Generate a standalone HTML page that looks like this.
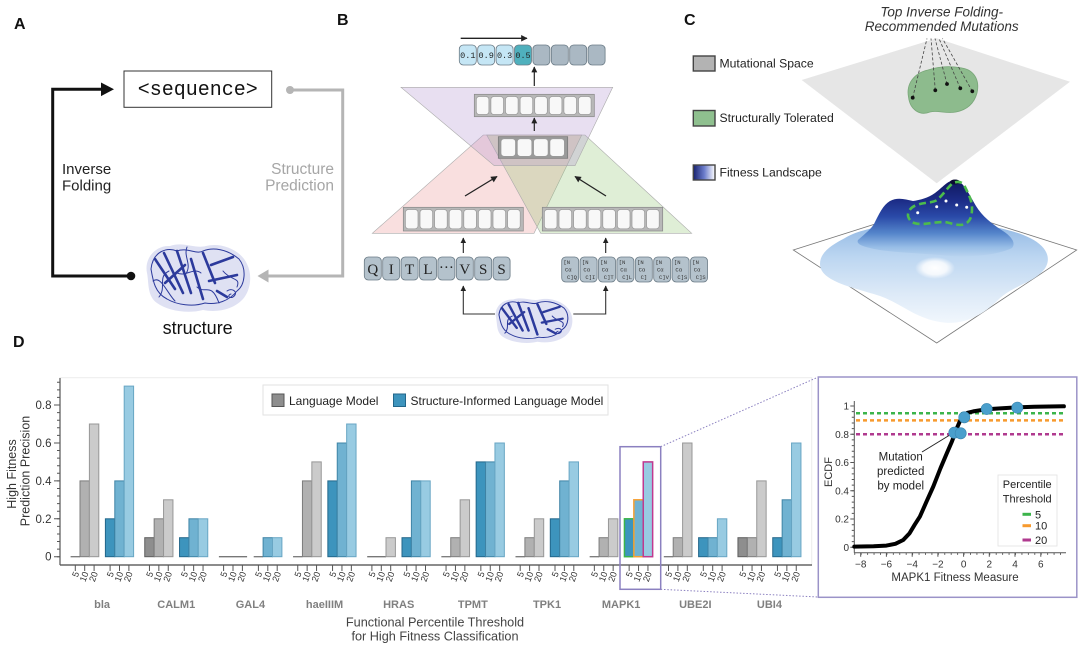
<!DOCTYPE html>
<html><head><meta charset="utf-8">
<style>
html,body{margin:0;padding:0;background:#fff;}
svg{display:block;font-family:"Liberation Sans",Arial,sans-serif;}
.l10{fill:#b1b1b1;stroke:#7d7d7d;stroke-width:1}
.l5{fill:#8e8e8e;stroke:#5e5e5e;stroke-width:1}
.l20{fill:#cbcbcb;stroke:#979797;stroke-width:1}
.s5{fill:#3d94bd;stroke:#22668a;stroke-width:1}
.s10{fill:#70b2d1;stroke:#3f84a6;stroke-width:1}
.s20{fill:#98cbe2;stroke:#68a6c4;stroke-width:1}
.z{stroke:#777;stroke-width:1.3}
.tk{stroke:#555;stroke-width:1;fill:none}
.tl{font-size:9px;fill:#333;text-anchor:end}
.pn{font-size:11px;font-weight:bold;fill:#808080;text-anchor:middle}
.cell{fill:#f8f8f8;stroke:#999;stroke-width:0.7}
.tok{fill:#b4c2cc;stroke:#6b7b86;stroke-width:0.8}
.mono{font-family:"Liberation Mono",monospace}
</style></head>
<body>
<svg width="1080" height="648" viewBox="0 0 1080 648" xmlns="http://www.w3.org/2000/svg">
<defs>
<marker id="ah" viewBox="0 0 10 10" refX="9" refY="5" markerWidth="5" markerHeight="5" orient="auto-start-reverse"><path d="M0,0L10,5L0,10Z" fill="#222"/></marker>
<linearGradient id="mt" x1="0" y1="0" x2="0" y2="1">
<stop offset="0" stop-color="#10185e"/>
<stop offset="0.25" stop-color="#1b2a84"/>
<stop offset="0.48" stop-color="#2a4aa8"/>
<stop offset="0.7" stop-color="#5586cb"/>
<stop offset="0.88" stop-color="#97bde6"/>
<stop offset="1" stop-color="#b8d3ef"/>
</linearGradient>
<linearGradient id="fp" x1="0" y1="0" x2="0" y2="1">
<stop offset="0" stop-color="#8fb6e3"/>
<stop offset="0.35" stop-color="#bcd6f1"/>
<stop offset="0.7" stop-color="#dce9f7"/>
<stop offset="1" stop-color="#f1f7fd"/>
</linearGradient>
<radialGradient id="wh" cx="0.5" cy="0.5" r="0.5">
<stop offset="0" stop-color="#fff" stop-opacity="1"/>
<stop offset="0.6" stop-color="#fff" stop-opacity="0.8"/>
<stop offset="1" stop-color="#fff" stop-opacity="0"/>
</radialGradient>
<linearGradient id="lg" x1="0" y1="0" x2="1" y2="0">
<stop offset="0" stop-color="#18226e"/>
<stop offset="0.5" stop-color="#6a7bcb"/>
<stop offset="1" stop-color="#ffffff"/>
</linearGradient>
</defs>

<!-- Panel labels -->
<g font-weight="bold" font-size="16" fill="#111">
<text x="14" y="29">A</text>
<text x="337" y="25">B</text>
<text x="684" y="25">C</text>
<text x="13" y="347">D</text>
</g>

<!-- ================= PANEL A ================= -->
<rect x="124" y="71" width="147.7" height="36.3" fill="#fff" stroke="#333" stroke-width="1"/>
<text x="197.8" y="95" class="mono" font-size="20" text-anchor="middle" fill="#111">&lt;sequence&gt;</text>
<path d="M131,276 H52.7 V89.3 H103" fill="none" stroke="#111" stroke-width="3"/>
<polygon points="101,82.5 114,89.3 101,96.1" fill="#111"/>
<circle cx="131" cy="276" r="4.3" fill="#111"/>
<text x="62" y="174" font-size="15" fill="#222">Inverse</text>
<text x="62" y="190.5" font-size="15" fill="#222">Folding</text>
<path d="M290,90 H342.7 V276 H267" fill="none" stroke="#b5b5b5" stroke-width="3"/>
<polygon points="268.5,269.5 257.5,276 268.5,282.5" fill="#b5b5b5"/>
<circle cx="290" cy="90" r="4" fill="#b5b5b5"/>
<text x="334" y="174" font-size="15.5" fill="#a6a6a6" text-anchor="end">Structure</text>
<text x="334" y="190.5" font-size="15.5" fill="#a6a6a6" text-anchor="end">Prediction</text>
<text x="197.7" y="334" font-size="18" text-anchor="middle" fill="#111">structure</text>

<!-- protein A -->
<g transform="translate(197,277)">
<path d="M-50,-4 C-53,-18 -42,-32 -27,-31 C-14,-36 -2,-28 9,-31 C24,-35 44,-27 50,-13 C56,-1 53,14 46,22 C37,32 21,36 6,33 C-9,37 -29,34 -40,26 C-50,19 -48,6 -50,-4Z" fill="#dfe1f3"/>
<g fill="none" stroke="#2c3a9c" stroke-linecap="round">
<path stroke-width="2.6" d="M-42,-18 L-22,12 M-33,-24 L-14,16 M-20,-26 L-6,16 M-6,-18 L6,22 M6,-24 L18,6 M14,-12 L36,-20 M12,4 L40,-2 M-32,6 L-12,-12 M20,14 L30,20"/>
<path stroke-width="1" d="M-46,-8 C-44,-26 -30,-30 -20,-26 C-10,-30 0,-22 6,-26 C16,-30 30,-28 42,-18 C50,-8 48,8 40,14 C32,24 20,28 8,26 C-4,30 -20,28 -30,22 C-42,16 -44,4 -46,-8 M-38,20 C-30,10 -40,0 -28,-6 M26,-6 C34,4 44,0 40,10 M30,14 C36,10 42,16 36,20 C32,22 30,18 34,17 M-20,-4 C-10,0 -4,-10 4,-4 M-44,4 C-36,-2 -30,16 -22,24 M0,10 C8,18 14,4 22,26 M-10,-30 C-14,-20 -4,-12 -12,-2"/>
</g></g>

<!-- ================= PANEL B ================= -->
<line x1="460.7" y1="38.3" x2="527" y2="38.3" stroke="#222" stroke-width="1.3" marker-end="url(#ah)"/>
<g>
<rect class="tok" x="459.3" y="45" width="17" height="20" rx="4" style="fill:#c5e6f5"/>
<rect class="tok" x="477.7" y="45" width="17" height="20" rx="4" style="fill:#c5e6f5"/>
<rect class="tok" x="496.1" y="45" width="17" height="20" rx="4" style="fill:#c5e6f5"/>
<rect class="tok" x="514.5" y="45" width="17" height="20" rx="4" style="fill:#4fb0bd"/>
<rect class="tok" x="532.9" y="45" width="17" height="20" rx="4" style="fill:#aab8c3"/>
<rect class="tok" x="551.3" y="45" width="17" height="20" rx="4" style="fill:#aab8c3"/>
<rect class="tok" x="569.7" y="45" width="17" height="20" rx="4" style="fill:#aab8c3"/>
<rect class="tok" x="588.1" y="45" width="17" height="20" rx="4" style="fill:#aab8c3"/>
<g class="mono" font-size="8.5" text-anchor="middle" fill="#222">
<text x="467.8" y="58">0.1</text><text x="486.2" y="58">0.9</text><text x="504.6" y="58">0.3</text><text x="523" y="58">0.5</text>
</g></g>
<line x1="534.3" y1="86" x2="534.3" y2="67" stroke="#222" stroke-width="1.2" marker-end="url(#ah)"/>

<polygon points="483.3,135 581.7,135 534,233.3 372.3,233.3" fill="rgb(235,150,150)" fill-opacity="0.3" stroke="#aaa" stroke-width="0.6"/>
<polygon points="486.7,135 585,135 691.7,233.3 540.7,233.3" fill="rgb(150,200,120)" fill-opacity="0.3" stroke="#aaa" stroke-width="0.6"/>
<polygon points="401,87.3 612.7,87.3 575,165.7 494.3,165.7" fill="rgb(180,150,210)" fill-opacity="0.3" stroke="#aaa" stroke-width="0.6"/>

<rect x="474.3" y="94.3" width="120" height="22.4" fill="#b8b8b8" stroke="#888" stroke-width="0.7"/>
<g>
<rect class="cell" x="476.3" y="96.5" width="12.6" height="18" rx="3"/>
<rect class="cell" x="490.9" y="96.5" width="12.6" height="18" rx="3"/>
<rect class="cell" x="505.5" y="96.5" width="12.6" height="18" rx="3"/>
<rect class="cell" x="520.1" y="96.5" width="12.6" height="18" rx="3"/>
<rect class="cell" x="534.7" y="96.5" width="12.6" height="18" rx="3"/>
<rect class="cell" x="549.3" y="96.5" width="12.6" height="18" rx="3"/>
<rect class="cell" x="563.9" y="96.5" width="12.6" height="18" rx="3"/>
<rect class="cell" x="578.5" y="96.5" width="12.6" height="18" rx="3"/>
</g>
<line x1="534.3" y1="131" x2="534.3" y2="118" stroke="#222" stroke-width="1.2" marker-end="url(#ah)"/>
<rect x="498.3" y="136.7" width="69.4" height="21.6" fill="#9a9a9a" stroke="#777" stroke-width="0.7"/>
<rect class="cell" x="501" y="138.8" width="14.5" height="17.5" rx="3"/>
<rect class="cell" x="517.3" y="138.8" width="14.5" height="17.5" rx="3"/>
<rect class="cell" x="533.6" y="138.8" width="14.5" height="17.5" rx="3"/>
<rect class="cell" x="549.9" y="138.8" width="14.5" height="17.5" rx="3"/>

<rect x="403.3" y="207.3" width="120" height="23.7" fill="#b8b8b8" stroke="#888" stroke-width="0.7"/>
<g>
<rect class="cell" x="405.4" y="209.5" width="12.6" height="19.3" rx="3"/>
<rect class="cell" x="420" y="209.5" width="12.6" height="19.3" rx="3"/>
<rect class="cell" x="434.6" y="209.5" width="12.6" height="19.3" rx="3"/>
<rect class="cell" x="449.2" y="209.5" width="12.6" height="19.3" rx="3"/>
<rect class="cell" x="463.8" y="209.5" width="12.6" height="19.3" rx="3"/>
<rect class="cell" x="478.4" y="209.5" width="12.6" height="19.3" rx="3"/>
<rect class="cell" x="493" y="209.5" width="12.6" height="19.3" rx="3"/>
<rect class="cell" x="507.6" y="209.5" width="12.6" height="19.3" rx="3"/>
</g>
<rect x="542.3" y="207.3" width="120.4" height="23.7" fill="#b8b8b8" stroke="#888" stroke-width="0.7"/>
<g>
<rect class="cell" x="544.4" y="209.5" width="12.6" height="19.3" rx="3"/>
<rect class="cell" x="559" y="209.5" width="12.6" height="19.3" rx="3"/>
<rect class="cell" x="573.6" y="209.5" width="12.6" height="19.3" rx="3"/>
<rect class="cell" x="588.2" y="209.5" width="12.6" height="19.3" rx="3"/>
<rect class="cell" x="602.8" y="209.5" width="12.6" height="19.3" rx="3"/>
<rect class="cell" x="617.4" y="209.5" width="12.6" height="19.3" rx="3"/>
<rect class="cell" x="632" y="209.5" width="12.6" height="19.3" rx="3"/>
<rect class="cell" x="646.6" y="209.5" width="12.6" height="19.3" rx="3"/>
</g>
<line x1="465" y1="196" x2="497" y2="176.5" stroke="#222" stroke-width="1.3" marker-end="url(#ah)"/>
<line x1="606" y1="196" x2="575" y2="176.5" stroke="#222" stroke-width="1.3" marker-end="url(#ah)"/>
<line x1="463.3" y1="253" x2="463.3" y2="238" stroke="#222" stroke-width="1.1" marker-end="url(#ah)"/>
<line x1="605.7" y1="253" x2="605.7" y2="238" stroke="#222" stroke-width="1.1" marker-end="url(#ah)"/>

<!-- sequence tokens -->
<g>
<rect class="tok" x="364.3" y="257" width="17" height="23" rx="4"/>
<rect class="tok" x="382.7" y="257" width="17" height="23" rx="4"/>
<rect class="tok" x="401.1" y="257" width="17" height="23" rx="4"/>
<rect class="tok" x="419.5" y="257" width="17" height="23" rx="4"/>
<rect class="tok" x="437.9" y="257" width="17" height="23" rx="4"/>
<rect class="tok" x="456.3" y="257" width="17" height="23" rx="4"/>
<rect class="tok" x="474.7" y="257" width="17" height="23" rx="4"/>
<rect class="tok" x="493.1" y="257" width="17" height="23" rx="4"/>
<g font-family="Liberation Serif,serif" font-size="15" text-anchor="middle" fill="#222">
<text x="372.8" y="274">Q</text><text x="391.2" y="274">I</text><text x="409.6" y="274">T</text><text x="428" y="274">L</text><text x="446.4" y="272">···</text><text x="464.8" y="274">V</text><text x="483.2" y="274">S</text><text x="501.6" y="274">S</text>
</g></g>
<g>
<rect class="tok" x="561.7" y="257" width="17" height="25" rx="4"/>
<rect class="tok" x="580.1" y="257" width="17" height="25" rx="4"/>
<rect class="tok" x="598.5" y="257" width="17" height="25" rx="4"/>
<rect class="tok" x="616.9" y="257" width="17" height="25" rx="4"/>
<rect class="tok" x="635.3" y="257" width="17" height="25" rx="4"/>
<rect class="tok" x="653.7" y="257" width="17" height="25" rx="4"/>
<rect class="tok" x="672.1" y="257" width="17" height="25" rx="4"/>
<rect class="tok" x="690.5" y="257" width="17" height="25" rx="4"/>
<g class="mono" font-size="5.5" fill="#333">
<text x="563.5" y="264">[N</text><text x="565" y="271.5">Cα</text><text x="567" y="279">C]Q</text>
<text x="581.9" y="264">[N</text><text x="583.4" y="271.5">Cα</text><text x="585.4" y="279">C]I</text>
<text x="600.3" y="264">[N</text><text x="601.8" y="271.5">Cα</text><text x="603.8" y="279">C]T</text>
<text x="618.7" y="264">[N</text><text x="620.2" y="271.5">Cα</text><text x="622.2" y="279">C]L</text>
<text x="637.1" y="264">[N</text><text x="638.6" y="271.5">Cα</text><text x="640.6" y="279">C]</text>
<text x="655.5" y="264">[N</text><text x="657" y="271.5">Cα</text><text x="659" y="279">C]V</text>
<text x="673.9" y="264">[N</text><text x="675.4" y="271.5">Cα</text><text x="677.4" y="279">C]S</text>
<text x="692.3" y="264">[N</text><text x="693.8" y="271.5">Cα</text><text x="695.8" y="279">C]S</text>
</g></g>
<path d="M495,314 H463.3 V286" fill="none" stroke="#333" stroke-width="1.1" marker-end="url(#ah)"/>
<path d="M573.3,314 H605.7 V286" fill="none" stroke="#333" stroke-width="1.1" marker-end="url(#ah)"/>

<!-- protein B -->
<g transform="translate(533,320) scale(0.74,0.66)">
<path d="M-50,-4 C-53,-18 -42,-32 -27,-31 C-14,-36 -2,-28 9,-31 C24,-35 44,-27 50,-13 C56,-1 53,14 46,22 C37,32 21,36 6,33 C-9,37 -29,34 -40,26 C-50,19 -48,6 -50,-4Z" fill="#dfe1f3"/>
<g fill="none" stroke="#2c3a9c" stroke-linecap="round">
<path stroke-width="3.4" d="M-42,-18 L-22,12 M-33,-24 L-14,16 M-20,-26 L-6,16 M-6,-18 L6,22 M6,-24 L18,6 M14,-12 L36,-20 M12,4 L40,-2 M-32,6 L-12,-12 M20,14 L30,20"/>
<path stroke-width="1.4" d="M-46,-8 C-44,-26 -30,-30 -20,-26 C-10,-30 0,-22 6,-26 C16,-30 30,-28 42,-18 C50,-8 48,8 40,14 C32,24 20,28 8,26 C-4,30 -20,28 -30,22 C-42,16 -44,4 -46,-8 M-38,20 C-30,10 -40,0 -28,-6 M26,-6 C34,4 44,0 40,10 M30,14 C36,10 42,16 36,20 C32,22 30,18 34,17"/>
</g></g>

<!-- ================= PANEL C ================= -->
<g font-size="13.5" font-style="italic" fill="#333" text-anchor="middle">
<text x="941.7" y="16.5">Top Inverse Folding-</text>
<text x="941.7" y="31">Recommended Mutations</text>
</g>
<rect x="693.3" y="56" width="21.7" height="15" fill="#b3b3b3" stroke="#444" stroke-width="1.4"/>
<text x="719.5" y="67.5" font-size="12.2" fill="#222">Mutational Space</text>
<rect x="693.3" y="110.5" width="21.7" height="15.5" fill="#8fc08f" stroke="#444" stroke-width="1.4"/>
<text x="719.5" y="122" font-size="12.2" fill="#222">Structurally Tolerated</text>
<rect x="693.3" y="165" width="21.7" height="15" fill="url(#lg)" stroke="#444" stroke-width="1.4"/>
<text x="719.5" y="176.5" font-size="12.2" fill="#222">Fitness Landscape</text>

<polygon points="801.7,80 936.7,38.3 1070,81.7 936.7,183.3" fill="#e6e6e6"/>
<path d="M908.5,97 C906,84 914,73 928,70 C940,66 952,66 962,68 C974,70 980,80 977,93 C974,104 966,110 956,112 C946,114 938,110 930,112 C920,116 910,110 908.5,97Z" fill="#8dbb8d" stroke="#79a779" stroke-width="0.8"/>
<g stroke="#444" stroke-width="0.8" stroke-dasharray="3 2" fill="none">
<path d="M912.7,97.7 L927,38.5 M935.3,90.3 L931,38.5 M947,84 L935,38.5 M960.3,88.3 L939,38.5 M972.3,91.3 L942.5,38.5"/>
</g>
<g fill="#111">
<circle cx="912.7" cy="97.7" r="1.9"/><circle cx="935.3" cy="90.3" r="1.9"/><circle cx="947" cy="84" r="1.9"/><circle cx="960.3" cy="88.3" r="1.9"/><circle cx="972.3" cy="91.3" r="1.9"/>
</g>

<polygon points="793.3,250 935,205 1076.7,250 936.7,343" fill="#fff" stroke="#777" stroke-width="0.8"/>
<!-- footprint -->
<path d="M845,238 C860,228 900,222 935,222 C975,222 1010,228 1030,238 C1050,248 1052,262 1042,272 C1030,284 1012,286 998,300 C982,316 962,326 940,322 C915,318 902,304 880,296 C856,288 820,282 820,264 C820,252 832,245 845,238 Z" fill="url(#fp)"/>
<!-- mountain body -->
<path d="M858,240 C866,233 871,229 874,224 C879,214 883,205 890,201 C897,197 905,199 913,201 C920,200 928,198 935,193 C942,188 948,180 955,180 C962,180 968,192 976,206 C982,216 992,224 1003,231 C1012,237 1016,243 1012,248 C995,256 965,258 940,255 C915,253 885,252 870,248 C862,246 856,244 858,240 Z" fill="url(#mt)"/>
<ellipse cx="935" cy="268" rx="20" ry="11" fill="url(#wh)"/>
<ellipse cx="955" cy="182" rx="5" ry="2.5" fill="#0a0a30"/>
<path d="M910,220 C905,214 910,207 917,205 C925,202 933,203 937,200 C943,195 948,187 953,183 C958,181 962,182 964,185 C968,193 972,200 972,208 C972,215 971,221 965,224 C958,227 950,222 943,222 C935,222 928,224 922,224 C916,224 912,223 910,220 Z" fill="none" stroke="#4cbb4c" stroke-width="2.6" stroke-dasharray="7 4"/>
<g fill="#fff">
<circle cx="917.7" cy="212.7" r="1.5"/><circle cx="936.7" cy="206.7" r="1.5"/><circle cx="946" cy="201" r="1.5"/><circle cx="956.7" cy="205" r="1.5"/><circle cx="966.7" cy="207.3" r="1.5"/>
</g>

<!-- ================= PANEL D ================= -->
<rect x="60" y="377.7" width="751.7" height="187.3" fill="none" stroke="#ececec" stroke-width="1"/>
<line x1="60" y1="565" x2="812" y2="565" stroke="#666" stroke-width="1.5"/>
<line x1="60" y1="378" x2="60" y2="565" stroke="#555" stroke-width="1.2"/>
<line x1="58.5" y1="557.2" x2="58.5" y2="380" stroke="#555" stroke-width="3" stroke-dasharray="1 6.584"/>
<path class="tk" d="M54,556.7H60M54,518.8H60M54,480.9H60M54,443H60M54,405H60"/>
<g font-size="11.5" fill="#333" text-anchor="end">
<text x="51.5" y="560.7">0</text><text x="51.5" y="522.8">0.2</text><text x="51.5" y="484.9">0.4</text><text x="51.5" y="447">0.6</text><text x="51.5" y="409">0.8</text>
</g>
<g font-size="12.5" fill="#333" text-anchor="middle">
<text transform="translate(16,474) rotate(-90)">High Fitness</text>
<text transform="translate(29.5,471) rotate(-90)">Prediction Precision</text>
</g>
<g font-size="12.7" fill="#444" text-anchor="middle">
<text x="435" y="626.5">Functional Percentile Threshold</text>
<text x="435" y="640.5">for High Fitness Classification</text>
</g>

<!-- legend -->
<rect x="263" y="385" width="345" height="30" fill="#fff" stroke="#e2e2e2" stroke-width="1"/>
<rect x="272" y="394" width="12" height="12.5" fill="#8e8e8e" stroke="#555" stroke-width="1"/>
<text x="289" y="405" font-size="12" fill="#222">Language Model</text>
<rect x="393.5" y="394" width="12" height="12.5" fill="#3d94bd" stroke="#22668a" stroke-width="1"/>
<text x="410.5" y="405" font-size="12" fill="#222">Structure-Informed Language Model</text>

<!-- bla -->
<g transform="translate(70.6,0)">
<line class="z" x1="0" x2="9.4" y1="556.7" y2="556.7"/>
<rect class="l10" x="9.4" y="480.9" width="9.4" height="75.8"/>
<rect class="l20" x="18.8" y="424" width="9.4" height="132.7"/>
<rect class="s5" x="34.8" y="518.8" width="9.4" height="37.9"/>
<rect class="s10" x="44.2" y="480.9" width="9.4" height="75.8"/>
<rect class="s20" x="53.6" y="386.1" width="9.4" height="170.6"/>
<path class="tk" d="M4.7,565v6M14.1,565v6M23.5,565v6M39.5,565v6M48.9,565v6M58.3,565v6"/>
<text class="tl" transform="translate(8.7,573) rotate(-70)">5</text><text class="tl" transform="translate(18.1,573) rotate(-70)">10</text><text class="tl" transform="translate(27.5,573) rotate(-70)">20</text><text class="tl" transform="translate(43.5,573) rotate(-70)">5</text><text class="tl" transform="translate(52.9,573) rotate(-70)">10</text><text class="tl" transform="translate(62.3,573) rotate(-70)">20</text>
<text class="pn" x="31.5" y="608">bla</text>
</g>
<!-- CALM1 -->
<g transform="translate(144.75,0)">
<rect class="l5" x="0" y="537.7" width="9.4" height="19"/>
<rect class="l10" x="9.4" y="518.8" width="9.4" height="37.9"/>
<rect class="l20" x="18.8" y="499.8" width="9.4" height="56.9"/>
<rect class="s5" x="34.8" y="537.7" width="9.4" height="19"/>
<rect class="s10" x="44.2" y="518.8" width="9.4" height="37.9"/>
<rect class="s20" x="53.6" y="518.8" width="9.4" height="37.9"/>
<path class="tk" d="M4.7,565v6M14.1,565v6M23.5,565v6M39.5,565v6M48.9,565v6M58.3,565v6"/>
<text class="tl" transform="translate(8.7,573) rotate(-70)">5</text><text class="tl" transform="translate(18.1,573) rotate(-70)">10</text><text class="tl" transform="translate(27.5,573) rotate(-70)">20</text><text class="tl" transform="translate(43.5,573) rotate(-70)">5</text><text class="tl" transform="translate(52.9,573) rotate(-70)">10</text><text class="tl" transform="translate(62.3,573) rotate(-70)">20</text>
<text class="pn" x="31.5" y="608">CALM1</text>
</g>
<!-- GAL4 -->
<g transform="translate(218.9,0)">
<line class="z" x1="0" x2="28.2" y1="556.7" y2="556.7"/>
<line class="z" x1="34.8" x2="44.2" y1="556.7" y2="556.7"/>
<rect class="s10" x="44.2" y="537.7" width="9.4" height="19"/>
<rect class="s20" x="53.6" y="537.7" width="9.4" height="19"/>
<path class="tk" d="M4.7,565v6M14.1,565v6M23.5,565v6M39.5,565v6M48.9,565v6M58.3,565v6"/>
<text class="tl" transform="translate(8.7,573) rotate(-70)">5</text><text class="tl" transform="translate(18.1,573) rotate(-70)">10</text><text class="tl" transform="translate(27.5,573) rotate(-70)">20</text><text class="tl" transform="translate(43.5,573) rotate(-70)">5</text><text class="tl" transform="translate(52.9,573) rotate(-70)">10</text><text class="tl" transform="translate(62.3,573) rotate(-70)">20</text>
<text class="pn" x="31.5" y="608">GAL4</text>
</g>
<!-- haeIIIM -->
<g transform="translate(293.05,0)">
<line class="z" x1="0" x2="9.4" y1="556.7" y2="556.7"/>
<rect class="l10" x="9.4" y="480.9" width="9.4" height="75.8"/>
<rect class="l20" x="18.8" y="461.9" width="9.4" height="94.8"/>
<rect class="s5" x="34.8" y="480.9" width="9.4" height="75.8"/>
<rect class="s10" x="44.2" y="443" width="9.4" height="113.7"/>
<rect class="s20" x="53.6" y="424" width="9.4" height="132.7"/>
<path class="tk" d="M4.7,565v6M14.1,565v6M23.5,565v6M39.5,565v6M48.9,565v6M58.3,565v6"/>
<text class="tl" transform="translate(8.7,573) rotate(-70)">5</text><text class="tl" transform="translate(18.1,573) rotate(-70)">10</text><text class="tl" transform="translate(27.5,573) rotate(-70)">20</text><text class="tl" transform="translate(43.5,573) rotate(-70)">5</text><text class="tl" transform="translate(52.9,573) rotate(-70)">10</text><text class="tl" transform="translate(62.3,573) rotate(-70)">20</text>
<text class="pn" x="31.5" y="608">haeIIIM</text>
</g>
<!-- HRAS -->
<g transform="translate(367.2,0)">
<line class="z" x1="0" x2="18.8" y1="556.7" y2="556.7"/>
<rect class="l20" x="18.8" y="537.7" width="9.4" height="19"/>
<rect class="s5" x="34.8" y="537.7" width="9.4" height="19"/>
<rect class="s10" x="44.2" y="480.9" width="9.4" height="75.8"/>
<rect class="s20" x="53.6" y="480.9" width="9.4" height="75.8"/>
<path class="tk" d="M4.7,565v6M14.1,565v6M23.5,565v6M39.5,565v6M48.9,565v6M58.3,565v6"/>
<text class="tl" transform="translate(8.7,573) rotate(-70)">5</text><text class="tl" transform="translate(18.1,573) rotate(-70)">10</text><text class="tl" transform="translate(27.5,573) rotate(-70)">20</text><text class="tl" transform="translate(43.5,573) rotate(-70)">5</text><text class="tl" transform="translate(52.9,573) rotate(-70)">10</text><text class="tl" transform="translate(62.3,573) rotate(-70)">20</text>
<text class="pn" x="31.5" y="608">HRAS</text>
</g>
<!-- TPMT -->
<g transform="translate(441.35,0)">
<line class="z" x1="0" x2="9.4" y1="556.7" y2="556.7"/>
<rect class="l10" x="9.4" y="537.7" width="9.4" height="19"/>
<rect class="l20" x="18.8" y="499.8" width="9.4" height="56.9"/>
<rect class="s5" x="34.8" y="461.9" width="9.4" height="94.8"/>
<rect class="s10" x="44.2" y="461.9" width="9.4" height="94.8"/>
<rect class="s20" x="53.6" y="443" width="9.4" height="113.7"/>
<path class="tk" d="M4.7,565v6M14.1,565v6M23.5,565v6M39.5,565v6M48.9,565v6M58.3,565v6"/>
<text class="tl" transform="translate(8.7,573) rotate(-70)">5</text><text class="tl" transform="translate(18.1,573) rotate(-70)">10</text><text class="tl" transform="translate(27.5,573) rotate(-70)">20</text><text class="tl" transform="translate(43.5,573) rotate(-70)">5</text><text class="tl" transform="translate(52.9,573) rotate(-70)">10</text><text class="tl" transform="translate(62.3,573) rotate(-70)">20</text>
<text class="pn" x="31.5" y="608">TPMT</text>
</g>
<!-- TPK1 -->
<g transform="translate(515.5,0)">
<line class="z" x1="0" x2="9.4" y1="556.7" y2="556.7"/>
<rect class="l10" x="9.4" y="537.7" width="9.4" height="19"/>
<rect class="l20" x="18.8" y="518.8" width="9.4" height="37.9"/>
<rect class="s5" x="34.8" y="518.8" width="9.4" height="37.9"/>
<rect class="s10" x="44.2" y="480.9" width="9.4" height="75.8"/>
<rect class="s20" x="53.6" y="461.9" width="9.4" height="94.8"/>
<path class="tk" d="M4.7,565v6M14.1,565v6M23.5,565v6M39.5,565v6M48.9,565v6M58.3,565v6"/>
<text class="tl" transform="translate(8.7,573) rotate(-70)">5</text><text class="tl" transform="translate(18.1,573) rotate(-70)">10</text><text class="tl" transform="translate(27.5,573) rotate(-70)">20</text><text class="tl" transform="translate(43.5,573) rotate(-70)">5</text><text class="tl" transform="translate(52.9,573) rotate(-70)">10</text><text class="tl" transform="translate(62.3,573) rotate(-70)">20</text>
<text class="pn" x="31.5" y="608">TPK1</text>
</g>
<!-- MAPK1 -->
<g transform="translate(589.65,0)">
<line class="z" x1="0" x2="9.4" y1="556.7" y2="556.7"/>
<rect class="l10" x="9.4" y="537.7" width="9.4" height="19"/>
<rect class="l20" x="18.8" y="518.8" width="9.4" height="37.9"/>
<rect class="s5" x="34.8" y="518.8" width="9.4" height="37.9" style="stroke:#3cb44b;stroke-width:1.5"/>
<rect class="s10" x="44.2" y="499.8" width="9.4" height="56.9" style="stroke:#f5a033;stroke-width:1.5"/>
<rect class="s20" x="53.6" y="461.9" width="9.4" height="94.8" style="stroke:#c0398f;stroke-width:1.5"/>
<path class="tk" d="M4.7,565v6M14.1,565v6M23.5,565v6M39.5,565v6M48.9,565v6M58.3,565v6"/>
<text class="tl" transform="translate(8.7,573) rotate(-70)">5</text><text class="tl" transform="translate(18.1,573) rotate(-70)">10</text><text class="tl" transform="translate(27.5,573) rotate(-70)">20</text><text class="tl" transform="translate(43.5,573) rotate(-70)">5</text><text class="tl" transform="translate(52.9,573) rotate(-70)">10</text><text class="tl" transform="translate(62.3,573) rotate(-70)">20</text>
<text class="pn" x="31.5" y="608">MAPK1</text>
</g>
<!-- UBE2I -->
<g transform="translate(663.8,0)">
<line class="z" x1="0" x2="9.4" y1="556.7" y2="556.7"/>
<rect class="l10" x="9.4" y="537.7" width="9.4" height="19"/>
<rect class="l20" x="18.8" y="443" width="9.4" height="113.7"/>
<rect class="s5" x="34.8" y="537.7" width="9.4" height="19"/>
<rect class="s10" x="44.2" y="537.7" width="9.4" height="19"/>
<rect class="s20" x="53.6" y="518.8" width="9.4" height="37.9"/>
<path class="tk" d="M4.7,565v6M14.1,565v6M23.5,565v6M39.5,565v6M48.9,565v6M58.3,565v6"/>
<text class="tl" transform="translate(8.7,573) rotate(-70)">5</text><text class="tl" transform="translate(18.1,573) rotate(-70)">10</text><text class="tl" transform="translate(27.5,573) rotate(-70)">20</text><text class="tl" transform="translate(43.5,573) rotate(-70)">5</text><text class="tl" transform="translate(52.9,573) rotate(-70)">10</text><text class="tl" transform="translate(62.3,573) rotate(-70)">20</text>
<text class="pn" x="31.5" y="608">UBE2I</text>
</g>
<!-- UBI4 -->
<g transform="translate(737.95,0)">
<rect class="l5" x="0" y="537.7" width="9.4" height="19"/>
<rect class="l10" x="9.4" y="537.7" width="9.4" height="19"/>
<rect class="l20" x="18.8" y="480.9" width="9.4" height="75.8"/>
<rect class="s5" x="34.8" y="537.7" width="9.4" height="19"/>
<rect class="s10" x="44.2" y="499.8" width="9.4" height="56.9"/>
<rect class="s20" x="53.6" y="443" width="9.4" height="113.7"/>
<path class="tk" d="M4.7,565v6M14.1,565v6M23.5,565v6M39.5,565v6M48.9,565v6M58.3,565v6"/>
<text class="tl" transform="translate(8.7,573) rotate(-70)">5</text><text class="tl" transform="translate(18.1,573) rotate(-70)">10</text><text class="tl" transform="translate(27.5,573) rotate(-70)">20</text><text class="tl" transform="translate(43.5,573) rotate(-70)">5</text><text class="tl" transform="translate(52.9,573) rotate(-70)">10</text><text class="tl" transform="translate(62.3,573) rotate(-70)">20</text>
<text class="pn" x="31.5" y="608">UBI4</text>
</g>

<!-- MAPK1 highlight & connectors -->
<rect x="620" y="446.7" width="40.7" height="142.6" fill="none" stroke="#8b80c0" stroke-width="1.5"/>
<line x1="660.7" y1="446.7" x2="818.3" y2="377" stroke="#8b80c0" stroke-width="1" stroke-dasharray="1.5 1.8"/>
<line x1="660.7" y1="589.3" x2="818.3" y2="597" stroke="#8b80c0" stroke-width="1" stroke-dasharray="1.5 1.8"/>

<!-- ================= INSET ================= -->
<rect x="818.3" y="377" width="258.5" height="220.3" fill="#fff" stroke="#9b93c8" stroke-width="1.5"/>
<line x1="854.3" y1="401" x2="854.3" y2="552.7" stroke="#555" stroke-width="1"/>
<line x1="854.3" y1="552.7" x2="1066" y2="552.7" stroke="#555" stroke-width="1"/>
<line x1="853" y1="547.8" x2="853" y2="401" stroke="#555" stroke-width="2.5" stroke-dasharray="1 4.652"/>
<line x1="854.3" y1="553.8" x2="1066" y2="553.8" stroke="#555" stroke-width="2.2" stroke-dasharray="0.9 5.53"/>
<path class="tk" d="M850.3,547.3H854.3M850.3,519H854.3M850.3,490.8H854.3M850.3,462.5H854.3M850.3,434.3H854.3M850.3,406H854.3"/>
<path class="tk" d="M860.7,552.7v4M886.4,552.7v4M912.2,552.7v4M937.9,552.7v4M963.6,552.7v4M989.3,552.7v4M1015,552.7v4M1040.8,552.7v4"/>
<g font-size="10" fill="#333" text-anchor="end">
<text x="849" y="550.8">0</text><text x="849" y="522.5">0.2</text><text x="849" y="494.3">0.4</text><text x="849" y="466">0.6</text><text x="849" y="437.8">0.8</text><text x="849" y="409.5">1</text>
</g>
<g font-size="10" fill="#333" text-anchor="middle">
<text x="860.7" y="567.5">−8</text><text x="886.4" y="567.5">−6</text><text x="912.2" y="567.5">−4</text><text x="937.9" y="567.5">−2</text><text x="963.6" y="567.5">0</text><text x="989.3" y="567.5">2</text><text x="1015" y="567.5">4</text><text x="1040.8" y="567.5">6</text>
</g>
<text x="955" y="581" font-size="11.5" fill="#333" text-anchor="middle">MAPK1 Fitness Measure</text>
<text transform="translate(832,472) rotate(-90)" font-size="11" fill="#333" text-anchor="middle">ECDF</text>

<g stroke-width="2.5" stroke-dasharray="4 3">
<line x1="856" y1="413.3" x2="1066" y2="413.3" stroke="#3cb44b"/>
<line x1="856" y1="420.4" x2="1066" y2="420.4" stroke="#f79a2e"/>
<line x1="856" y1="434.3" x2="1066" y2="434.3" stroke="#b03a8f"/>
</g>
<polyline fill="none" stroke="#000" stroke-width="4" stroke-linejoin="round" stroke-linecap="round" points="854.3,546.6 873.6,546.3 886.4,545.6 895.4,543.8 903.2,540 909.6,533.2 914.7,524.7 919.9,516.6 926.3,502.1 933.3,486.5 940.5,468.2 946.8,453.3 952,441.3 956.7,428.6 960.4,420.1 963.3,415 967.5,412.8 973.2,411.4 986.7,409.2 1002.2,408.3 1016.7,407.4 1034.3,406.8 1063.9,406.3"/>
<g fill="#4a9fcc" stroke="#3a86b0" stroke-width="0.6">
<circle cx="954.3" cy="432.7" r="5.6"/><circle cx="960.7" cy="433.3" r="5.6"/><circle cx="964.3" cy="417.3" r="5.6"/><circle cx="986.7" cy="409" r="5.6"/><circle cx="1017.3" cy="407.7" r="5.6"/>
</g>
<line x1="922" y1="452" x2="949" y2="435.5" stroke="#222" stroke-width="1"/>
<g font-size="11.5" fill="#222" text-anchor="middle">
<text x="900.7" y="460.5">Mutation</text><text x="900.7" y="475">predicted</text><text x="900.7" y="489.5">by model</text>
</g>
<rect x="998" y="475" width="59" height="71" fill="#fff" fill-opacity="0.8" stroke="#e2e2e2" stroke-width="0.8"/>
<g font-size="11" fill="#222" text-anchor="middle">
<text x="1027.2" y="488">Percentile</text><text x="1027.2" y="502.5">Threshold</text>
</g>
<g stroke-width="3">
<line x1="1022.5" y1="514.3" x2="1031" y2="514.3" stroke="#3cb44b"/>
<line x1="1022.5" y1="525.7" x2="1031" y2="525.7" stroke="#f79a2e"/>
<line x1="1022.5" y1="540" x2="1031" y2="540" stroke="#b03a8f"/>
</g>
<g font-size="11" fill="#222">
<text x="1035" y="518.3">5</text><text x="1035" y="529.7">10</text><text x="1035" y="544">20</text>
</g>
</svg>
</body></html>
